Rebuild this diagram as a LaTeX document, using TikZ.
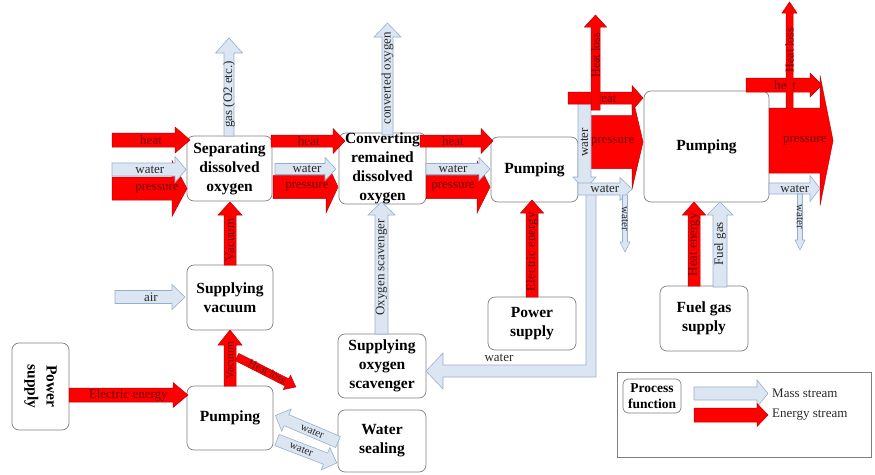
\documentclass[tikz,border=0pt]{standalone}
\usepackage{fontspec}
\setmainfont{Liberation Serif}
\definecolor{enfill}{RGB}{255,0,0}
\definecolor{endraw}{RGB}{190,0,0}
\definecolor{entext}{RGB}{110,0,0}
\definecolor{msfill}{RGB}{220,230,242}
\definecolor{msdraw}{RGB}{150,175,205}
\definecolor{mstext}{RGB}{40,40,40}
\definecolor{boxdraw}{RGB}{128,128,128}
\newcommand\labfont{\fontsize{13}{15}\selectfont}
\newcommand\smallfont{\fontsize{11}{13}\selectfont}
\newcommand\hlfont{\fontsize{12}{14}\selectfont}
\newcommand\vacfont{\fontsize{11.5}{13}\selectfont}
\newcommand\boxfont{\fontsize{15.5}{19}\selectfont\bfseries}
\newcommand\pffont{\fontsize{13.5}{16}\selectfont\bfseries}
\pgfkeys{/ba/.cd,
 sw/.store in=\baSW, hw/.store in=\baHW, hl/.store in=\baHL, pos/.store in=\baPOS,
 lrot/.store in=\baLR, ls/.store in=\baLS, fs/.store in=\baFS,
 st/.code={\tikzset{bacur/.style={#1}, bacurtext/.style={#1 text}}}}
\newcommand\BA[5][]{%
\begingroup
\pgfkeys{/ba/.cd, sw=6, hw=12, hl=12, pos=0.5, lrot=0, ls=0, fs=\labfont, st=mass, #1}%
\begin{scope}[shift={#2}, rotate=#3]
\path[bacur] (0,-\baSW) -- ({#4-\baHL},-\baSW) -- ({#4-\baHL},-\baHW) -- (#4,0) -- ({#4-\baHL},\baHW) -- ({#4-\baHL},\baSW) -- (0,\baSW) -- cycle;
\if\relax\detokenize{#5}\relax\else
\node[bacurtext, font=\baFS, transform shape, rotate=\baLR] at ({(#4-\baHL)*\baPOS},\baLS) {#5};
\fi
\end{scope}
\endgroup}
\tikzset{
 mass/.style={fill=msfill, draw=msdraw, line width=0.6pt},
 mass text/.style={text=mstext, inner sep=0pt},
 energy/.style={fill=enfill, draw=endraw, line width=0.5pt},
 energy text/.style={text=entext, inner sep=0pt},
 procbox/.style={draw=boxdraw, fill=white, rounded corners=7pt, line width=0.7pt, align=center, inner sep=0pt, font=\boxfont},
}
\begin{document}
\begin{tikzpicture}[x=1pt, y=-1pt]
\useasboundingbox (0,0) rectangle (875,474);
% process boxes
\node[procbox, minimum width=85pt, minimum height=65pt] (sep) at (229.5,168.5) {Separating\\dissolved\\oxygen};
\node[procbox, minimum width=87pt, minimum height=67pt] (conv) at (382.5,168.5) {Converting\\remained\\dissolved\\oxygen};
\node[procbox, minimum width=87pt, minimum height=65pt] (pump1) at (534.5,169.5) {Pumping};
\node[procbox, minimum width=125pt, minimum height=111pt] (pump2) at (706.5,146.5) {Pumping};
\node[procbox, minimum width=86pt, minimum height=65pt] (vac) at (230,297.5) {Supplying\\vacuum};
\node[procbox, rotate=-90, minimum width=87pt, minimum height=57pt] (ps1) at (40.5,386.5) {Power\\supply};
\node[procbox, minimum width=86pt, minimum height=64pt] (pump3) at (230,418) {Pumping};
\node[procbox, minimum width=88pt, minimum height=62pt] (seal) at (382,441) {Water\\sealing};
\node[procbox, minimum width=88pt, minimum height=64pt] (scav) at (382,366) {Supplying\\oxygen\\scavenger};
\node[procbox, minimum width=88pt, minimum height=53pt] (ps2) at (532,323.5) {Power\\supply};
\node[procbox, minimum width=88pt, minimum height=65pt] (fuel) at (704,318.5) {Fuel gas\\supply};
% legend
\node[draw=boxdraw, line width=0.7pt, minimum width=254pt, minimum height=85pt, inner sep=0pt] (legend) at (744,414.5) {};
\node[procbox, font=\pffont, rounded corners=5pt, minimum width=58pt, minimum height=34pt] (pf) at (652,396) {Process\\function};
\BA[st=mass, sw=6.5, hw=13.5, hl=11]{(694,393.5)}{0}{74}{}
\BA[st=energy, sw=7, hw=11.5, hl=11]{(694,415)}{0}{74}{}
\node[anchor=west, font=\labfont, text=mstext, inner sep=0pt] (lm) at (772,393.5) {Mass stream};
\node[anchor=west, font=\labfont, text=mstext, inner sep=0pt] (le) at (772,415) {Energy stream};
% inputs to separating
\BA[st=energy, sw=11.5, hw=28, hl=15, pos=0.75]{(112,188.5)}{0}{75}{pressure}
\BA[st=mass, sw=6.5, hw=13, hl=11, pos=0.6]{(112,169.5)}{0}{74}{water}
\BA[st=energy, sw=7, hw=13, hl=15, pos=0.62]{(112,140)}{0}{78}{heat}
% separating -> converting
\BA[st=energy, sw=11.5, hw=26, hl=12, pos=0.64]{(273,187)}{0}{65}{pressure}
\BA[st=mass, sw=5.5, hw=11.5, hl=11, pos=0.64]{(275,169)}{0}{61}{water}
\BA[st=energy, sw=6, hw=12.5, hl=12, pos=0.61]{(271,141)}{0}{74}{heat}
% converting -> pumping
\BA[st=energy, sw=11.5, hw=26, hl=13, pos=0.53]{(426,187)}{0}{64}{pressure}
\BA[st=mass, sw=5.5, hw=11.5, hl=11, pos=0.51]{(426,169)}{0}{64}{water}
\BA[st=energy, sw=6, hw=12.5, hl=12, pos=0.54]{(420,141)}{0}{73}{heat}
% vertical outputs
\BA[st=mass, sw=5, hw=13.5, hl=15]{(229,136)}{90}{98}{gas (O2 etc.)}
\BA[st=mass, sw=5.5, hw=13.5, hl=14, pos=0.58]{(387.5,135)}{90}{112}{converted oxygen}
\BA[st=mass, sw=6.5, hw=13.5, hl=13, pos=0.56]{(381.5,334)}{90}{132}{Oxygen scavenger}
\BA[st=energy, sw=6, hw=12, hl=13]{(230,265)}{90}{63}{Vacuum}
\BA[st=energy, sw=6, hw=12, hl=15, pos=0.62, fs=\vacfont]{(230,386)}{90}{56}{Vacuum}
\BA[st=energy, sw=6, hw=11.5, hl=13, pos=0.54]{(532,297)}{90}{97}{Electric energy}
\BA[st=energy, sw=6, hw=11.5, hl=13, pos=0.58]{(694,286)}{90}{84}{Heat energy}
\BA[st=mass, sw=7, hw=13, hl=13, pos=0.6]{(720,287)}{90}{85}{Fuel gas}
% left
\BA[st=energy, sw=7, hw=12.5, hl=15, pos=0.57]{(69,395)}{0}{119}{Electric energy}
\BA[st=mass, sw=6.5, hw=12.5, hl=13, pos=0.63]{(115,297)}{0}{70}{air}
\BA[st=energy, sw=4, hw=8, hl=10, pos=0.6, ls=-1, fs=\smallfont]{(237,357)}{-27}{66}{Heat loss}
% water sealing
\BA[st=mass, sw=6, hw=12, hl=12, lrot=180, fs=\smallfont]{(338,442)}{157}{68}{water}
\BA[st=mass, sw=6, hw=12, hl=12, fs=\smallfont]{(277,440)}{-21}{64}{water}
% water loop to oxygen scavenger
\path[mass] (586,190) -- (586,365) -- (443,365) -- (443,353) -- (426,371) -- (443,389) -- (443,377) -- (596,377) -- (596,190) -- cycle;
\node[mass text, font=\labfont] (wl) at (499,358) {water};
% middle-right group
\BA[st=energy, sw=26.5, hw=47, hl=11, pos=0.56]{(588,142)}{0}{55}{pressure}
\BA[st=mass, sw=6.5, hw=11.5, hl=13, pos=0.55, lrot=180]{(584.5,100)}{-90}{90}{water}
\BA[st=mass, sw=6, hw=11.5, hl=12, pos=0.64]{(578,189)}{0}{54}{water}
\BA[st=energy, sw=6, hw=12.5, hl=11, pos=0.59]{(568,98)}{0}{75}{heat}
\BA[st=energy, sw=4.5, hw=11, hl=12, pos=0.66, fs=\hlfont]{(595.5,110)}{90}{95}{Heat loss}
\BA[st=mass, sw=2.5, hw=5, hl=10, fs=\smallfont]{(625,195)}{-90}{57}{water}
% right group
\BA[st=energy, sw=32.5, hw=65, hl=13, pos=0.7]{(769,140.5)}{0}{64}{pressure}
\BA[st=mass, sw=5.5, hw=13, hl=10, pos=0.63]{(769,188.5)}{0}{51}{water}
\BA[st=energy, sw=7, hw=12, hl=12, pos=0.61]{(746,85)}{0}{76}{heat}
\BA[st=energy, sw=3.5, hw=7.5, hl=11, pos=0.61, fs=\hlfont]{(789.5,108)}{90}{106}{Heat loss}
\BA[st=mass, sw=2.5, hw=5, hl=10, fs=\smallfont]{(800,194)}{-90}{56}{water}
\end{tikzpicture}
\end{document}
